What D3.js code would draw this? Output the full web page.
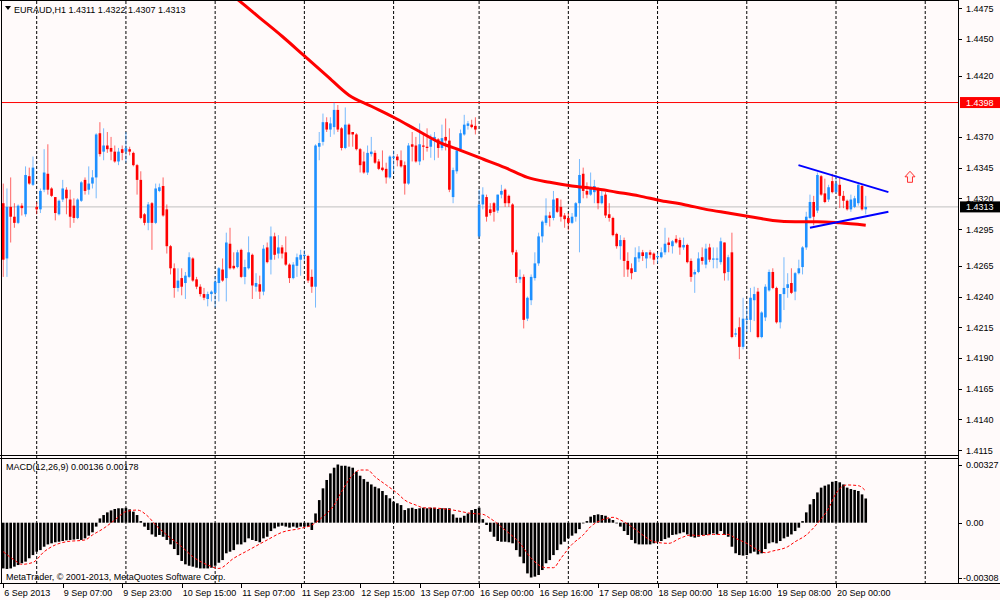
<!DOCTYPE html>
<html>
<head>
<meta charset="utf-8">
<script src="https://cdn.jsdelivr.net/npm/d3@7"></script>
<style>
  body { margin: 0; background: #fffafa; }
  svg { display: block; font-family: "Liberation Sans", Arial, sans-serif; }
</style>
</head>
<body>
<svg id="chart" width="1000" height="600"></svg>
<script>
// EURAUD H1 candles, 6 Sep 2013 15:00 .. 20 Sep 2013 08:00
const opens = [
  1.4316,1.4271,1.4313,1.4305,1.4300,1.4314,1.4307,1.4338,1.4331,1.4313,
  1.4311,1.4327,1.4340,1.4328,1.4321,1.4307,1.4319,1.4327,1.4319,1.4314,
  1.4304,1.4318,1.4335,1.4327,1.4332,1.4337,1.4373,1.4358,1.4363,1.4361,
  1.4358,1.4350,1.4360,1.4358,1.4360,1.4357,1.4347,1.4335,1.4307,1.4300,
  1.4316,1.4300,1.4326,1.4330,1.4311,1.4281,1.4263,1.4247,1.4255,1.4251,
  1.4256,1.4271,1.4254,1.4248,1.4242,1.4238,1.4242,1.4243,1.4251,1.4262,
  1.4255,1.4283,1.4265,1.4264,1.4278,1.4256,1.4263,1.4274,1.4248,1.4250,
  1.4244,1.4280,1.4270,1.4289,1.4275,1.4280,1.4276,1.4266,1.4255,1.4265,
  1.4270,1.4273,1.4273,1.4256,1.4248,1.4362,1.4366,1.4382,1.4376,1.4378,
  1.4392,1.4377,1.4361,1.4380,1.4374,1.4372,1.4360,1.4350,1.4341,1.4356,
  1.4357,1.4350,1.4345,1.4344,1.4337,1.4353,1.4354,1.4351,1.4347,1.4332,
  1.4364,1.4363,1.4350,1.4363,1.4362,1.4362,1.4367,1.4368,1.4361,1.4370,
  1.4367,1.4321,1.4342,1.4360,1.4372,1.4379,1.4380,1.4379,1.4289,1.4315,
  1.4321,1.4311,1.4316,1.4310,1.4323,1.4327,1.4322,1.4315,1.4276,1.4254,
  1.4256,1.4222,1.4237,1.4255,1.4267,1.4289,1.4300,1.4306,1.4304,1.4320,
  1.4313,1.4306,1.4304,1.4300,1.4305,1.4316,1.4340,1.4326,1.4323,1.4325,
  1.4327,1.4316,1.4323,1.4307,1.4304,1.4291,1.4281,1.4286,1.4269,1.4263,
  1.4260,1.4271,1.4276,1.4271,1.4276,1.4275,1.4272,1.4272,1.4276,1.4284,
  1.4281,1.4287,1.4286,1.4280,1.4282,1.4269,1.4258,1.4260,1.4272,1.4266,
  1.4280,1.4270,1.4270,1.4268,1.4284,1.4260,1.4276,1.4209,1.4215,1.4199,
  1.4221,1.4221,1.4237,1.4244,1.4207,1.4223,1.4245,1.4260,1.4247,1.4219,
  1.4242,1.4247,1.4251,1.4244,1.4259,1.4264,1.4280,1.4304,1.4317,1.4310,
  1.4338,1.4324,1.4319,1.4334,1.4325,1.4331,1.4322,1.4318,1.4311,1.4313,
  1.4316,1.4330,1.4311
];
const highs = [
  1.4332,1.4328,1.4337,1.4316,1.4315,1.4316,1.4346,1.4345,1.4354,1.4317,
  1.4328,1.4360,1.4364,1.4329,1.4321,1.4319,1.4335,1.4329,1.4327,1.4320,
  1.4320,1.4334,1.4337,1.4346,1.4343,1.4373,1.4382,1.4377,1.4374,1.4370,
  1.4363,1.4361,1.4363,1.4374,1.4362,1.4358,1.4348,1.4342,1.4308,1.4317,
  1.4317,1.4332,1.4332,1.4337,1.4315,1.4282,1.4267,1.4263,1.4263,1.4260,
  1.4276,1.4272,1.4256,1.4250,1.4247,1.4244,1.4245,1.4256,1.4264,1.4271,
  1.4292,1.4296,1.4276,1.4278,1.4279,1.4270,1.4289,1.4275,1.4259,1.4257,
  1.4282,1.4284,1.4297,1.4292,1.4290,1.4282,1.4289,1.4267,1.4268,1.4275,
  1.4278,1.4278,1.4274,1.4262,1.4364,1.4374,1.4389,1.4386,1.4386,1.4398,
  1.4396,1.4378,1.4394,1.4381,1.4374,1.4373,1.4361,1.4358,1.4363,1.4370,
  1.4359,1.4352,1.4359,1.4349,1.4355,1.4359,1.4356,1.4359,1.4350,1.4365,
  1.4374,1.4370,1.4381,1.4372,1.4377,1.4372,1.4374,1.4369,1.4380,1.4385,
  1.4377,1.4345,1.4361,1.4376,1.4388,1.4383,1.4384,1.4386,1.4327,1.4329,
  1.4323,1.4316,1.4317,1.4323,1.4331,1.4328,1.4323,1.4316,1.4278,1.4262,
  1.4258,1.4240,1.4258,1.4276,1.4292,1.4302,1.4320,1.4309,1.4326,1.4320,
  1.4319,1.4308,1.4308,1.4308,1.4317,1.4352,1.4345,1.4333,1.4341,1.4335,
  1.4329,1.4327,1.4325,1.4316,1.4305,1.4292,1.4290,1.4288,1.4276,1.4267,
  1.4280,1.4281,1.4278,1.4276,1.4278,1.4276,1.4276,1.4280,1.4296,1.4288,
  1.4286,1.4290,1.4288,1.4288,1.4283,1.4271,1.4262,1.4276,1.4280,1.4283,
  1.4283,1.4280,1.4280,1.4288,1.4284,1.4274,1.4292,1.4214,1.4223,1.4239,
  1.4231,1.4247,1.4248,1.4247,1.4228,1.4250,1.4262,1.4263,1.4248,1.4242,
  1.4272,1.4259,1.4263,1.4260,1.4270,1.4281,1.4309,1.4323,1.4322,1.4341,
  1.4339,1.4336,1.4331,1.4340,1.4339,1.4337,1.4326,1.4319,1.4323,1.4322,
  1.4333,1.4331,1.4322
];
const lows = [
  1.4256,1.4256,1.4284,1.4296,1.4299,1.4306,1.4305,1.4331,1.4330,1.4307,
  1.4308,1.4325,1.4323,1.4321,1.4302,1.4306,1.4317,1.4307,1.4296,1.4300,
  1.4303,1.4317,1.4323,1.4323,1.4328,1.4320,1.4354,1.4351,1.4357,1.4351,
  1.4349,1.4347,1.4351,1.4349,1.4355,1.4346,1.4323,1.4303,1.4298,1.4294,
  1.4278,1.4299,1.4325,1.4305,1.4275,1.4258,1.4239,1.4244,1.4241,1.4238,
  1.4255,1.4252,1.4246,1.4240,1.4237,1.4232,1.4236,1.4231,1.4236,1.4252,
  1.4236,1.4262,1.4262,1.4263,1.4255,1.4250,1.4262,1.4238,1.4244,1.4238,
  1.4241,1.4267,1.4258,1.4270,1.4271,1.4271,1.4265,1.4251,1.4254,1.4256,
  1.4257,1.4269,1.4251,1.4243,1.4231,1.4351,1.4363,1.4374,1.4370,1.4372,
  1.4374,1.4359,1.4360,1.4362,1.4362,1.4359,1.4341,1.4340,1.4339,1.4354,
  1.4348,1.4343,1.4342,1.4332,1.4336,1.4341,1.4346,1.4345,1.4323,1.4331,
  1.4350,1.4349,1.4347,1.4351,1.4358,1.4353,1.4351,1.4353,1.4359,1.4359,
  1.4325,1.4316,1.4340,1.4359,1.4371,1.4376,1.4377,1.4372,1.4288,1.4311,
  1.4301,1.4306,1.4301,1.4308,1.4320,1.4313,1.4313,1.4274,1.4251,1.4251,
  1.4214,1.4220,1.4233,1.4253,1.4265,1.4284,1.4298,1.4297,1.4302,1.4308,
  1.4301,1.4296,1.4294,1.4299,1.4301,1.4276,1.4320,1.4320,1.4322,1.4316,
  1.4311,1.4315,1.4304,1.4301,1.4289,1.4279,1.4270,1.4256,1.4256,1.4254,
  1.4260,1.4268,1.4269,1.4263,1.4271,1.4266,1.4267,1.4271,1.4274,1.4276,
  1.4275,1.4283,1.4274,1.4278,1.4267,1.4252,1.4243,1.4259,1.4266,1.4263,
  1.4268,1.4263,1.4263,1.4266,1.4253,1.4253,1.4206,1.4207,1.4189,1.4197,
  1.4211,1.4211,1.4220,1.4206,1.4206,1.4220,1.4244,1.4246,1.4218,1.4214,
  1.4229,1.4239,1.4242,1.4237,1.4258,1.4258,1.4278,1.4303,1.4298,1.4308,
  1.4322,1.4316,1.4317,1.4324,1.4324,1.4312,1.4312,1.4310,1.4309,1.4312,
  1.4314,1.4310,1.4307
];
const closes = [
  1.4270,1.4313,1.4305,1.4300,1.4314,1.4312,1.4339,1.4332,1.4345,1.4311,
  1.4326,1.4341,1.4327,1.4322,1.4308,1.4318,1.4328,1.4320,1.4305,1.4304,
  1.4319,1.4333,1.4326,1.4332,1.4337,1.4372,1.4356,1.4363,1.4360,1.4358,
  1.4350,1.4358,1.4357,1.4361,1.4358,1.4347,1.4335,1.4304,1.4300,1.4315,
  1.4300,1.4328,1.4329,1.4306,1.4281,1.4263,1.4247,1.4253,1.4248,1.4257,
  1.4272,1.4253,1.4248,1.4242,1.4239,1.4242,1.4244,1.4252,1.4263,1.4253,
  1.4284,1.4263,1.4263,1.4276,1.4256,1.4264,1.4276,1.4249,1.4251,1.4244,
  1.4279,1.4268,1.4289,1.4274,1.4280,1.4275,1.4266,1.4255,1.4266,1.4272,
  1.4274,1.4274,1.4253,1.4248,1.4363,1.4365,1.4382,1.4376,1.4381,1.4392,
  1.4376,1.4361,1.4380,1.4372,1.4372,1.4360,1.4347,1.4341,1.4357,1.4358,
  1.4349,1.4344,1.4343,1.4337,1.4354,1.4354,1.4351,1.4346,1.4332,1.4363,
  1.4362,1.4350,1.4364,1.4362,1.4361,1.4368,1.4370,1.4361,1.4369,1.4367,
  1.4327,1.4343,1.4359,1.4373,1.4380,1.4381,1.4378,1.4376,1.4315,1.4323,
  1.4305,1.4308,1.4309,1.4323,1.4326,1.4316,1.4316,1.4276,1.4256,1.4256,
  1.4221,1.4239,1.4256,1.4267,1.4289,1.4301,1.4306,1.4304,1.4319,1.4309,
  1.4305,1.4303,1.4300,1.4305,1.4316,1.4339,1.4326,1.4323,1.4329,1.4330,
  1.4316,1.4322,1.4306,1.4304,1.4290,1.4281,1.4286,1.4269,1.4262,1.4259,
  1.4272,1.4276,1.4273,1.4276,1.4274,1.4270,1.4273,1.4276,1.4283,1.4282,
  1.4285,1.4284,1.4280,1.4282,1.4268,1.4256,1.4260,1.4271,1.4269,1.4279,
  1.4270,1.4271,1.4271,1.4285,1.4259,1.4272,1.4207,1.4210,1.4199,1.4222,
  1.4222,1.4239,1.4242,1.4207,1.4227,1.4248,1.4260,1.4247,1.4219,1.4242,
  1.4247,1.4250,1.4243,1.4259,1.4263,1.4280,1.4305,1.4317,1.4305,1.4339,
  1.4323,1.4317,1.4329,1.4325,1.4332,1.4322,1.4318,1.4311,1.4319,1.4320,
  1.4331,1.4311,1.4313
];

// MACD(12,26,9) main values, one per bar
const macdValues = [
  -0.00257,-0.00260,-0.00257,-0.00247,-0.00238,-0.00228,-0.00219,-0.00200,-0.00182,-0.00163,
  -0.00154,-0.00135,-0.00122,-0.00116,-0.00110,-0.00107,-0.00103,-0.00099,-0.00097,-0.00095,
  -0.00092,-0.00097,-0.00088,-0.00073,-0.00054,-0.00022,0.00024,0.00043,0.00058,0.00069,
  0.00077,0.00081,0.00081,0.00084,0.00075,0.00062,0.00043,0.00009,-0.00022,-0.00041,
  -0.00066,-0.00079,-0.00069,-0.00079,-0.00097,-0.00122,-0.00148,-0.00182,-0.00215,-0.00234,
  -0.00242,-0.00247,-0.00253,-0.00257,-0.00257,-0.00257,-0.00253,-0.00242,-0.00225,-0.00210,
  -0.00172,-0.00163,-0.00154,-0.00122,-0.00122,-0.00110,-0.00088,-0.00097,-0.00103,-0.00110,
  -0.00088,-0.00079,-0.00047,-0.00032,-0.00022,-0.00017,-0.00022,-0.00028,-0.00022,-0.00028,
  -0.00022,-0.00022,-0.00022,-0.00041,0.00052,0.00127,0.00193,0.00240,0.00277,0.00309,
  0.00327,0.00320,0.00320,0.00315,0.00309,0.00287,0.00264,0.00245,0.00230,0.00215,
  0.00202,0.00193,0.00178,0.00155,0.00137,0.00118,0.00109,0.00099,0.00071,0.00081,
  0.00084,0.00077,0.00081,0.00084,0.00081,0.00084,0.00084,0.00077,0.00081,0.00081,
  0.00081,0.00047,0.00028,0.00028,0.00039,0.00052,0.00071,0.00077,0.00084,0.00020,
  -0.00013,-0.00051,-0.00079,-0.00103,-0.00107,-0.00107,-0.00110,-0.00116,-0.00154,-0.00191,
  -0.00228,-0.00285,-0.00308,-0.00303,-0.00294,-0.00266,-0.00228,-0.00210,-0.00182,-0.00154,
  -0.00122,-0.00107,-0.00088,-0.00073,-0.00060,-0.00036,-0.00004,0.00009,0.00034,0.00043,
  0.00047,0.00043,0.00039,0.00024,0.00015,-0.00004,-0.00022,-0.00047,-0.00069,-0.00097,
  -0.00116,-0.00122,-0.00122,-0.00122,-0.00122,-0.00116,-0.00107,-0.00103,-0.00092,-0.00084,
  -0.00069,-0.00066,-0.00060,-0.00054,-0.00066,-0.00079,-0.00084,-0.00079,-0.00069,-0.00069,
  -0.00066,-0.00060,-0.00066,-0.00047,-0.00069,-0.00079,-0.00135,-0.00172,-0.00182,-0.00185,
  -0.00182,-0.00172,-0.00163,-0.00178,-0.00172,-0.00148,-0.00116,-0.00110,-0.00116,-0.00103,
  -0.00088,-0.00079,-0.00066,-0.00047,-0.00028,0.00009,0.00058,0.00103,0.00133,0.00170,
  0.00197,0.00208,0.00215,0.00230,0.00234,0.00227,0.00215,0.00197,0.00189,0.00184,
  0.00178,0.00159,0.00136
];

// MACD signal line, read at these bars
const signalBars = [1,4,6,9,12,15,18,23,25,28,31,34,37,40,42,45,49,52,56,59,63,67,72,76,81,84,87,90,92,95,97,99,101,104,107,109,112,114,118,122,127,130,132,136,140,143,147,149,151,154,157,159,162,165,167,170,173,176,180,183,186,188,192,196,198,201,204,206,208,212,214,217,220,223,225,228,231,233];
const signalValues = [-0.00163,-0.00210,-0.00234,-0.00223,-0.00163,-0.00125,-0.00107,-0.00097,-0.00069,-0.00032,0.00015,0.00062,0.00071,0.00034,-0.00013,-0.00069,-0.00135,-0.00191,-0.00238,-0.00257,-0.00200,-0.00154,-0.00097,-0.00054,-0.00032,-0.00013,0.00034,0.00099,0.00174,0.00268,0.00296,0.00296,0.00258,0.00212,0.00165,0.00127,0.00099,0.00084,0.00081,0.00071,0.00052,0.00047,0.00024,-0.00041,-0.00116,-0.00200,-0.00253,-0.00253,-0.00200,-0.00122,-0.00069,-0.00022,0.00015,0.00030,0.00015,-0.00022,-0.00069,-0.00107,-0.00116,-0.00088,-0.00069,-0.00073,-0.00066,-0.00066,-0.00088,-0.00116,-0.00154,-0.00169,-0.00159,-0.00135,-0.00107,-0.00069,-0.00004,0.00081,0.00165,0.00212,0.00208,0.00178];

// moving average (red), read at these bars
const maBars = [60,64,70,76,82,88,94,100,106,112,118,124,130,136,142,148,154,160,166,172,178,184,190,196,202,208,214,220,226,233];
const maValues = [1.4491,1.4482,1.4467,1.4452,1.4436,1.4420,1.4404,1.4395,1.4386,1.4376,1.4366,1.4359,1.4352,1.4345,1.4337,1.4333,1.4330,1.4328,1.4325,1.4322,1.4318,1.4315,1.4311,1.4308,1.4305,1.4302,1.4301,1.4301,1.4300,1.4298];

// drawn objects: triangle lines, arrow, level line
const upperLineBars = [214.9, 239.1];
const upperLinePrices = [1.4347, 1.4325];
const lowerLineBars = [218.0, 239.1];
const lowerLinePrices = [1.4296, 1.4309];
const arrowBar = 244.9;
const arrowPrice = 1.4342;
const levelPrice = 1.4398;

const priceTicks = [1.4475,1.4450,1.4420,1.4370,1.4345,1.4320,1.4295,1.4265,1.4240,1.4215,1.4190,1.4165,1.4140,1.4115];
const macdTicks = [0.00327, 0, -0.00308];
const macdTickLabels = ["0.00327", "0.00", "-0.00308"];
const timeBars = [1,17,33,49,65,81,97,113,129,145,161,177,193,209,225];
const timeLabels = ["6 Sep 2013","9 Sep 07:00","9 Sep 23:00","10 Sep 15:00","11 Sep 07:00","11 Sep 23:00","12 Sep 15:00","13 Sep 07:00","16 Sep 00:00","16 Sep 16:00","17 Sep 08:00","18 Sep 00:00","18 Sep 16:00","19 Sep 08:00","20 Sep 00:00"];
const dayStartBars = [10,34,58,82,106,129,153,177,201,225,249];

const svg = d3.select("#chart");
const left = 2, right = 958;
const mainTop = 1, mainBottom = 455;
const macdTop = 459, macdBottom = 583;
const n = closes.length;
const bull = "#1e90ff", bear = "#ff0000";

const x = d3.scaleLinear().domain([1, n]).range([3.24, 3.24 + (n - 1) * 3.7177]);
const y = d3.scaleLinear().domain([1.4475, 1.4115]).range([8, 450]);
const ym = d3.scaleLinear().domain([0.00327, -0.00308]).range([464.5, 577.5]);

svg.append("rect").attr("width", 1000).attr("height", 600).attr("fill", "#fffafa");

const defs = svg.append("defs");
defs.append("clipPath").attr("id", "clipMain").append("rect")
  .attr("x", left).attr("y", mainTop).attr("width", right - left).attr("height", mainBottom - mainTop);
defs.append("clipPath").attr("id", "clipMacd").append("rect")
  .attr("x", left).attr("y", macdTop).attr("width", right - left).attr("height", macdBottom - macdTop);

// vertical grid at day starts
svg.append("g").selectAll("line").data(dayStartBars).enter().append("line")
  .attr("x1", d => x(d)).attr("x2", d => x(d))
  .attr("y1", mainTop).attr("y2", macdBottom)
  .attr("stroke", "#000").attr("stroke-width", 1).attr("stroke-dasharray", "3,2");

const main = svg.append("g").attr("clip-path", "url(#clipMain)");

// level line and bid line
main.append("line").attr("x1", left).attr("x2", right)
  .attr("y1", y(levelPrice)).attr("y2", y(levelPrice))
  .attr("stroke", "#ff0000").attr("stroke-width", 1);
const bid = closes[n - 1];
main.append("line").attr("x1", left).attr("x2", right)
  .attr("y1", y(bid)).attr("y2", y(bid))
  .attr("stroke", "#c0c0c0").attr("stroke-width", 1);

// candles
const bars = d3.range(n).map(i => ({
  i: i + 1, o: opens[i], h: highs[i], l: lows[i], c: closes[i]
}));
const candles = main.append("g").selectAll("g").data(bars).enter().append("g");
candles.append("line")
  .attr("x1", d => x(d.i)).attr("x2", d => x(d.i))
  .attr("y1", d => y(d.h)).attr("y2", d => y(d.l))
  .attr("stroke", d => d.c >= d.o ? bull : bear)
  .attr("stroke-opacity", 0.6).attr("stroke-width", 1);
candles.append("rect")
  .attr("x", d => x(d.i) - 1.3).attr("width", 2.6)
  .attr("y", d => y(Math.max(d.o, d.c)))
  .attr("height", d => Math.max(1, Math.abs(y(d.o) - y(d.c))))
  .attr("fill", d => d.c >= d.o ? bull : bear);

// moving average
main.append("path")
  .datum(maBars.map((b, k) => [b, maValues[k]]))
  .attr("fill", "none").attr("stroke", "#ff0000").attr("stroke-width", 3)
  .attr("d", d3.line().x(d => x(d[0])).y(d => y(d[1])).curve(d3.curveMonotoneX));

// triangle lines
[[upperLineBars, upperLinePrices], [lowerLineBars, lowerLinePrices]].forEach(([bs, ps]) => {
  main.append("line")
    .attr("x1", x(bs[0])).attr("y1", y(ps[0]))
    .attr("x2", x(bs[1])).attr("y2", y(ps[1]))
    .attr("stroke", "#0000ff").attr("stroke-width", 2);
});

// up arrow
main.append("path")
  .attr("transform", `translate(${x(arrowBar)},${y(arrowPrice)})`)
  .attr("d", "M0,0 L5,5.5 L2.5,5.5 L2.5,11 L-2.5,11 L-2.5,5.5 L-5,5.5 Z")
  .attr("fill", "#fff0f0").attr("stroke", "#ff3030").attr("stroke-width", 1);

// header
svg.append("path").attr("d", "M5,6 L11,6 L8,10 Z").attr("fill", "#000");
svg.append("text").attr("x", 14).attr("y", 13).attr("font-size", 9).attr("fill", "#000")
  .text(`EURAUD,H1  ${opens[n - 1].toFixed(4)} ${highs[n - 1].toFixed(4)} ${lows[n - 1].toFixed(4)} ${bid.toFixed(4)}`);

// MACD panel
const macdG = svg.append("g").attr("clip-path", "url(#clipMacd)");
macdG.append("g").selectAll("rect").data(macdValues).enter().append("rect")
  .attr("x", (d, i) => x(i + 1) - 1.3).attr("width", 2.6)
  .attr("y", d => Math.min(ym(0), ym(d)))
  .attr("height", d => Math.abs(ym(d) - ym(0)))
  .attr("fill", "#000");
macdG.append("path")
  .datum(signalBars.map((b, k) => [b, signalValues[k]]))
  .attr("fill", "none").attr("stroke", "#ff0000").attr("stroke-width", 1)
  .attr("stroke-dasharray", "3,2")
  .attr("d", d3.line().x(d => x(d[0])).y(d => ym(d[1])).curve(d3.curveMonotoneX));

svg.append("text").attr("x", 6).attr("y", 470).attr("font-size", 9).attr("fill", "#000")
  .text(`MACD(12,26,9) ${macdValues[n - 1].toFixed(5)} ${signalValues[signalValues.length - 1].toFixed(5)}`);
svg.append("text").attr("x", 6).attr("y", 580).attr("font-size", 9).attr("fill", "#000")
  .text("MetaTrader, \u00a9 2001-2013, MetaQuotes Software Corp.");

// frames
const frame = svg.append("g").attr("stroke", "#000").attr("stroke-width", 1).attr("fill", "none");
frame.append("line").attr("x1", 1.5).attr("x2", 1.5).attr("y1", 0).attr("y2", macdBottom);
frame.append("line").attr("x1", 0).attr("x2", right).attr("y1", 0.5).attr("y2", 0.5);
frame.append("line").attr("x1", right + 0.5).attr("x2", right + 0.5).attr("y1", 0).attr("y2", macdBottom);
frame.append("line").attr("x1", 0).attr("x2", right).attr("y1", mainBottom + 0.5).attr("y2", mainBottom + 0.5);
frame.append("line").attr("x1", 0).attr("x2", right).attr("y1", macdTop - 0.5).attr("y2", macdTop - 0.5);
frame.append("line").attr("x1", 0).attr("x2", 1000).attr("y1", macdBottom + 0.5).attr("y2", macdBottom + 0.5);

// price axis
const pAxis = svg.append("g");
pAxis.selectAll("line").data(priceTicks).enter().append("line")
  .attr("x1", right).attr("x2", right + 4)
  .attr("y1", d => Math.round(y(d)) + 0.5).attr("y2", d => Math.round(y(d)) + 0.5)
  .attr("stroke", "#000");
pAxis.selectAll("text").data(priceTicks).enter().append("text")
  .attr("x", 966).attr("y", d => y(d) + 3.5)
  .attr("font-size", 9).attr("fill", "#000")
  .text(d => d.toFixed(4));

function priceTag(v, bg) {
  svg.append("rect").attr("x", 960).attr("y", y(v) - 5.5).attr("width", 40).attr("height", 11).attr("fill", bg);
  svg.append("text").attr("x", 966).attr("y", y(v) + 3.5).attr("font-size", 9).attr("fill", "#fff").text(v.toFixed(4));
}
priceTag(levelPrice, "#ff0000");
priceTag(bid, "#000");

// MACD axis
const mAxis = svg.append("g");
mAxis.selectAll("line").data(macdTicks).enter().append("line")
  .attr("x1", right).attr("x2", right + 4)
  .attr("y1", d => Math.round(ym(d)) + 0.5).attr("y2", d => Math.round(ym(d)) + 0.5)
  .attr("stroke", "#000");
mAxis.selectAll("text").data(macdTicks).enter().append("text")
  .attr("x", (d, i) => d < 0 ? 963 : 966).attr("y", d => ym(d) + 3.5)
  .attr("font-size", 9).attr("fill", "#000")
  .text((d, i) => macdTickLabels[i]);

// time axis
const tAxis = svg.append("g");
tAxis.selectAll("line").data(timeBars).enter().append("line")
  .attr("x1", d => Math.round(x(d)) + 0.5).attr("x2", d => Math.round(x(d)) + 0.5)
  .attr("y1", macdBottom).attr("y2", macdBottom + 5)
  .attr("stroke", "#000");
tAxis.selectAll("text").data(timeBars).enter().append("text")
  .attr("x", d => x(d) + 1).attr("y", 596)
  .attr("font-size", 9).attr("fill", "#000")
  .text((d, i) => timeLabels[i]);
</script>
</body>
</html>
